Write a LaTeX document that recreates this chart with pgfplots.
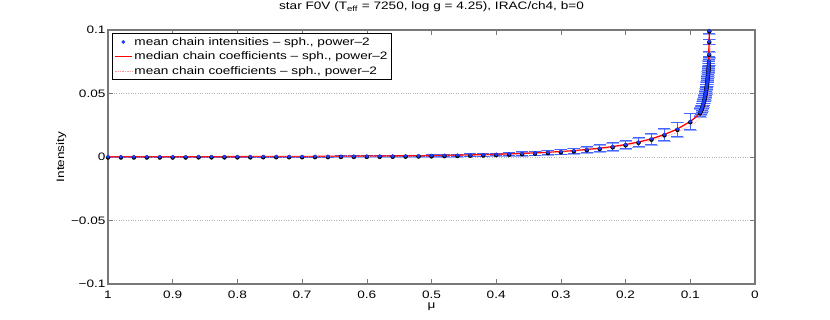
\documentclass[border=0pt]{standalone}
\usepackage{pgfplots}
\usepackage{pgfplotstable}
\pgfplotsset{compat=1.18}
\usepackage{fontspec}
\setmainfont{Liberation Sans}[FakeStretch=1.26]
\definecolor{axgray}{RGB}{120,120,120}
\definecolor{ptblue}{RGB}{30,60,255}
\definecolor{barblue}{RGB}{70,100,255}
\definecolor{lightbar}{RGB}{150,170,255}
\definecolor{pinkdot}{RGB}{255,150,150}
\newcommand{\fs}{\fontsize{10.8bp}{13bp}\selectfont}

\pgfplotstableread{
mu I err
1.00 0.0002 0.0003
0.98 0.0002 0.0003
0.96 0.0002 0.0003
0.94 0.0002 0.0003
0.92 0.0002 0.0003
0.90 0.0002 0.0003
0.88 0.0002 0.0003
0.86 0.0003 0.0003
0.84 0.0003 0.0003
0.82 0.0003 0.0003
0.80 0.0003 0.0003
0.78 0.0003 0.0003
0.76 0.0004 0.0003
0.74 0.0004 0.0003
0.72 0.0004 0.0003
0.70 0.0004 0.0003
0.68 0.0005 0.0004
0.66 0.0005 0.0004
0.64 0.0006 0.0004
0.62 0.0006 0.0004
0.60 0.0007 0.0004
0.58 0.0007 0.0005
0.56 0.0008 0.0005
0.54 0.0009 0.0005
0.52 0.0010 0.0006
0.50 0.0011 0.0006
0.48 0.0013 0.0007
0.46 0.0014 0.0008
0.44 0.0016 0.0009
0.42 0.0018 0.0010
0.40 0.0021 0.0011
0.38 0.0024 0.0012
0.36 0.0028 0.0014
0.34 0.0032 0.0016
0.32 0.0037 0.0018
0.30 0.0043 0.0020
0.28 0.0050 0.0022
0.26 0.0059 0.0024
0.24 0.0069 0.0027
0.22 0.0082 0.0030
0.20 0.0098 0.0033
0.18 0.0118 0.0037
0.16 0.0143 0.0042
0.14 0.0177 0.0048
0.12 0.0220 0.0056
0.10 0.0280 0.0066
0.0850 0.0350 0.0030
0.0837 0.0365 0.0030
0.0825 0.0380 0.0030
0.0815 0.0395 0.0030
0.0806 0.0410 0.0030
0.0797 0.0425 0.0030
0.0789 0.0440 0.0030
0.0782 0.0455 0.0030
0.0776 0.0470 0.0030
0.0770 0.0485 0.0030
0.0765 0.0500 0.0030
0.0760 0.0515 0.0030
0.0755 0.0530 0.0030
0.0751 0.0545 0.0030
0.0747 0.0560 0.0030
0.0743 0.0575 0.0030
0.0739 0.0590 0.0030
0.0736 0.0605 0.0030
0.0733 0.0620 0.0030
0.0730 0.0635 0.0030
0.0727 0.0650 0.0030
0.0724 0.0665 0.0030
0.0721 0.0680 0.0030
0.0718 0.0695 0.0030
0.0716 0.0710 0.0030
0.0714 0.0725 0.0030
0.0712 0.0740 0.0030
0.0711 0.0755 0.0030
0.0708 0.0810 0.0020
0.0707 0.0910 0.0020
0.0706 0.0995 0.0020
}\bluedata

\pgfplotstableread{
mu I
1.00 0.0002
0.90 0.0002
0.80 0.0003
0.70 0.0004
0.60 0.0007
0.50 0.0011
0.44 0.0016
0.40 0.0021
0.36 0.0028
0.32 0.0037
0.30 0.0043
0.28 0.0050
0.26 0.0059
0.24 0.0069
0.22 0.0082
0.20 0.0098
0.18 0.0118
0.16 0.0143
0.14 0.0177
0.12 0.0220
0.10 0.0280
0.09 0.0320
0.085 0.0360
0.082 0.0395
0.079 0.0445
0.0765 0.0510
0.0737 0.0620
0.0716 0.0777
0.0706 0.1000
0.0704 0.1100
}\reddata

\pgfplotstableread{
mu I
1.00 0.0000
0.90 0.0000
0.80 0.0001
0.70 0.0002
0.60 0.0004
0.50 0.0008
0.44 0.0012
0.40 0.0017
0.36 0.0023
0.32 0.0032
0.30 0.0038
0.28 0.0045
0.26 0.0053
0.24 0.0063
0.22 0.0074
0.20 0.0088
0.18 0.0106
0.16 0.0129
0.14 0.0158
0.12 0.0195
0.10 0.0247
0.09 0.0280
0.08 0.0340
0.075 0.0400
0.072 0.0480
0.070 0.0600
0.069 0.0750
0.068 0.1000
0.0678 0.1100
}\pinkdata

\begin{document}
\begin{tikzpicture}[x=1bp,y=1bp]
\path[use as bounding box] (0,0) rectangle (830,319);
\begin{axis}[
  at={(108bp,35bp)}, anchor=south west,
  scale only axis, width=647bp, height=254bp,
  x dir=reverse, xmin=0, xmax=1, ymin=-0.1, ymax=0.1,
  xtick={0,0.1,0.2,0.3,0.4,0.5,0.6,0.7,0.8,0.9,1},
  xticklabels={0,0.1,0.2,0.3,0.4,0.5,0.6,0.7,0.8,0.9,1},
  ytick={-0.1,-0.05,0,0.05,0.1},
  yticklabels={−0.1,−0.05,0,0.05,0.1},
  tick align=inside, major tick length=5bp,
  axis line style={draw=axgray, line width=1.1bp},
  every tick/.style={draw=axgray, line width=0.6bp},
  ymajorgrids, grid style={dotted, axgray!55, line width=0.5bp},
  tick label style={font=\fs, text=black},
  xticklabel style={yshift=-3.5bp},
  yticklabel style={xshift=1bp},
  title={star F0V (T\textsubscript{eff} = 7250, log g = 4.25), IRAC/ch4, b=0},
  title style={font=\fs, at={(axis description cs:0.5,1.057)}, anchor=base},
  xlabel={μ}, ylabel={Intensity},
  xlabel style={font=\fs, at={(axis description cs:0.5,-0.095)}, anchor=base},
  ylabel style={font=\fs, at={(axis description cs:-0.072,0.5)}, anchor=center},
  legend style={at={(0.006,0.988)}, anchor=north west, font=\fs, draw=black, line width=0.5bp, inner sep=2bp, row sep=1.2bp},
  legend cell align=left,
]
\addplot[only marks, draw=none, mark=none, forget plot,
  error bars/.cd, y dir=both, y explicit,
  error bar style={lightbar, line width=0.8bp},
  error mark options={lightbar, rotate=90, mark size=6.5bp, line width=0.8bp}]
  table[x=mu, y expr=\thisrow{I}-0.0006, y error=err] {\bluedata};
\addplot[only marks, mark=*, mark size=1.6bp, color=ptblue,
  error bars/.cd, y dir=both, y explicit,
  error bar style={barblue, line width=0.7bp},
  error mark options={barblue, rotate=90, mark size=6bp, line width=0.7bp}]
  table[x=mu, y=I, y error=err] {\bluedata};
\addlegendentry{mean chain intensities – sph., power–2}
\addplot[red, line width=1.3bp] table[x=mu, y=I] {\reddata};
\addlegendentry{median chain coefficients – sph., power–2}
\addplot[pinkdot, densely dotted, line width=0.7bp] table[x=mu, y=I] {\pinkdata};
\addlegendentry{mean chain coefficients – sph., power–2}
\end{axis}
\end{tikzpicture}
\end{document}
